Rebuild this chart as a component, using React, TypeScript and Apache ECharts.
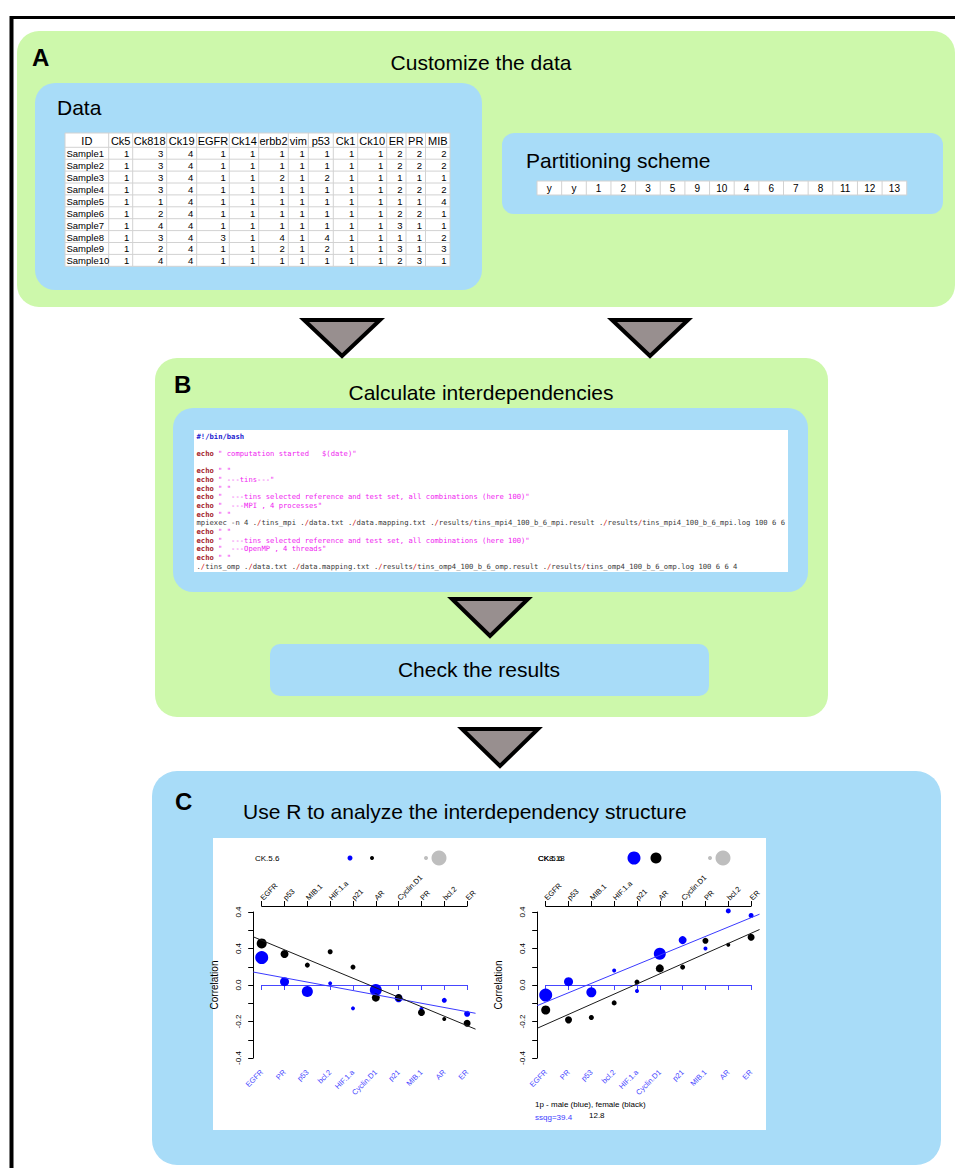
import React, { useEffect, useRef } from "react";
import * as echarts from "echarts";

// ---------------- DATA ----------------
const dataColumns = ["ID", "Ck5", "Ck818", "Ck19", "EGFR", "Ck14", "erbb2", "vim", "p53", "Ck1", "Ck10", "ER", "PR", "MIB"];
const sampleIds = ["Sample1", "Sample2", "Sample3", "Sample4", "Sample5", "Sample6", "Sample7", "Sample8", "Sample9", "Sample10"];
const sampleValues = [
  [1, 3, 4, 1, 1, 1, 1, 1, 1, 1, 2, 2, 2],
  [1, 3, 4, 1, 1, 1, 1, 1, 1, 1, 2, 2, 2],
  [1, 3, 4, 1, 1, 2, 1, 2, 1, 1, 1, 1, 1],
  [1, 3, 4, 1, 1, 1, 1, 1, 1, 1, 2, 2, 2],
  [1, 1, 4, 1, 1, 1, 1, 1, 1, 1, 1, 1, 4],
  [1, 2, 4, 1, 1, 1, 1, 1, 1, 1, 2, 2, 1],
  [1, 4, 4, 1, 1, 1, 1, 1, 1, 1, 3, 1, 1],
  [1, 3, 4, 3, 1, 4, 1, 4, 1, 1, 1, 1, 2],
  [1, 2, 4, 1, 1, 2, 1, 2, 1, 1, 3, 1, 3],
  [1, 4, 4, 1, 1, 1, 1, 1, 1, 1, 2, 3, 1],
];
const partitionScheme = ["y", "y", "1", "2", "3", "5", "9", "10", "4", "6", "7", "8", "11", "12", "13"];

const codeLines = [
  "#!/bin/bash",
  "",
  'echo " computation started   $(date)"',
  "",
  'echo " "',
  'echo " ---tins---"',
  'echo " "',
  'echo "  ---tins selected reference and test set, all combinations (here 100)"',
  'echo "  ---MPI , 4 processes"',
  'echo " "',
  "mpiexec -n 4 ./tins_mpi ./data.txt ./data.mapping.txt ./results/tins_mpi4_100_b_6_mpi.result ./results/tins_mpi4_100_b_6_mpi.log 100 6 6",
  'echo " "',
  'echo "  ---tins selected reference and test set, all combinations (here 100)"',
  'echo "  ---OpenMP , 4 threads"',
  'echo " "',
  "./tins_omp ./data.txt ./data.mapping.txt ./results/tins_omp4_100_b_6_omp.result ./results/tins_omp4_100_b_6_omp.log 100 6 6 4",
];

const topCats = ["EGFR", "p53", "MIB.1", "HIF.1.a", "p21", "AR", "Cyclin.D1", "PR", "bcl.2", "ER"];
const bottomCats = ["EGFR", "PR", "p53", "bcl.2", "HIF.1.a", "Cyclin.D1", "p21", "MIB.1", "AR", "ER"];
const yTickValues = [-0.4, -0.2, 0, 0.2, 0.4];
const yTickLabels = ["-0.4", "-0.2", "0.0", "0.4", "0.4"];

// left plot (CK.5.6)
const leftBlue = [0.15, 0.018, -0.036, 0.009, -0.128, -0.027, -0.073, -0.131, -0.084, -0.158];
const leftBlueSize = [13, 9, 11, 4, 4, 12, 8, 4, 5, 6];
const leftBlack = [0.228, 0.17, 0.109, 0.182, 0.098, -0.069, -0.069, -0.151, -0.186, -0.21];
const leftBlackSize = [10, 8, 5, 5, 5, 8, 7, 7, 4, 7];
const leftBlueFit = [0.071, -0.155];
const leftBlackFit = [0.264, -0.242];

// right plot (CK8.18)
const rightBlue = [-0.055, 0.018, -0.04, 0.08, -0.033, 0.171, 0.246, 0.2, 0.406, 0.381];
const rightBlueSize = [13, 9, 10, 4, 4, 12, 8, 4, 5, 5];
const rightBlack = [-0.137, -0.191, -0.178, -0.098, 0.016, 0.091, 0.098, 0.242, 0.22, 0.262];
const rightBlackSize = [9, 7, 5, 5, 5, 8, 5, 6, 4, 7];
const rightBlueFit = [-0.113, 0.388];
const rightBlackFit = [-0.237, 0.304];

const fitX = [0.63, 10.37];

// ---------------- STYLE ----------------
const GREEN = "#cdf8ab";
const LBLUE = "#a8dcf8";
const TRI = "#988f8f";
const SANS = "Liberation Sans, Arial, sans-serif";
const MONO = "DejaVu Sans Mono, monospace";
const AXBLUE = "#4646ff";

function txt(x: number, y: number, text: string, opts: any = {}) {
  return {
    type: "text",
    x,
    y,
    rotation: opts.rotation || 0,
    z: 1,
    style: {
      text,
      fill: opts.fill || "#000",
      font: opts.font || `21px ${SANS}`,
      align: opts.align || "left",
      verticalAlign: opts.verticalAlign || "middle",
    },
  };
}

function rect(x: number, y: number, w: number, h: number, r: number, fill: string) {
  return { type: "rect", z: 0, shape: { x, y, width: w, height: h, r }, style: { fill } };
}

function tri(cx: number, top: number, bottom: number, half: number) {
  return {
    type: "polygon",
    z: 1,
    shape: { points: [[cx - half, top], [cx + half, top], [cx, bottom]] },
    style: { fill: TRI, stroke: "#000", lineWidth: 4, lineJoin: "miter" },
  };
}

function line(x1: number, y1: number, x2: number, y2: number, stroke: string, lw: number) {
  return { type: "line", z: 1, shape: { x1, y1, x2, y2 }, style: { stroke, lineWidth: lw } };
}

function codeRich(l: string) {
  const nb = (s: string) => s.replace(/ /g, "\u00a0");
  if (l.startsWith("#!")) return { text: `{h|${nb(l)}}` };
  if (l.startsWith("echo")) return { text: `{e|echo}{s|${nb(l.slice(4))}}` };
  const parts = l.split("/");
  return { text: parts.map((p) => (p ? `{p|${nb(p)}}` : "")).join("{r|/}") };
}

function buildGraphics() {
  const g: any[] = [];
  // frame
  g.push(line(11.5, 17.5, 955, 17.5, "#000", 3));
  g.push(line(11.5, 16, 11.5, 1168, "#000", 4));

  // panel A
  g.push(rect(17, 31, 938, 276, 22, GREEN));
  g.push(txt(32, 57, "A", { font: `bold 24px ${SANS}` }));
  g.push(txt(481, 62, "Customize the data", { align: "center" }));
  g.push(rect(35, 83, 447, 207, 20, LBLUE));
  g.push(txt(57, 107, "Data"));

  // data table
  const colX = [65, 108.7, 132.7, 166.7, 196.7, 229.3, 258.7, 288.3, 308.3, 333.3, 357.7, 386.7, 406, 425.5, 450];
  const tTop = 133;
  const hH = 14.3;
  const rH = 11.9;
  const tBottom = tTop + hH + rH * sampleIds.length;
  g.push(rect(colX[0], tTop, colX[colX.length - 1] - colX[0], tBottom - tTop, 0, "#fff"));
  colX.forEach((x) => g.push(line(x, tTop, x, tBottom, "#d2d2d2", 1)));
  for (let i = 0; i <= sampleIds.length + 1; i++) {
    const y = i === 0 ? tTop : tTop + hH + rH * (i - 1);
    g.push(line(colX[0], y, colX[colX.length - 1], y, "#d2d2d2", 1));
  }
  dataColumns.forEach((c, j) => {
    g.push(txt((colX[j] + colX[j + 1]) / 2, tTop + hH / 2 + 0.5, c, { align: "center", font: `11px ${SANS}` }));
  });
  sampleIds.forEach((s, i) => {
    const y = tTop + hH + rH * (i + 0.5) + 0.5;
    g.push(txt(colX[0] + 1.5, y, s, { font: `9.5px ${SANS}` }));
    sampleValues[i].forEach((v, j) => {
      g.push(txt(colX[j + 2] - 3.5, y, String(v), { align: "right", font: `9.5px ${SANS}` }));
    });
  });

  // partitioning scheme
  g.push(rect(502, 133, 441, 81, 12, LBLUE));
  g.push(txt(526, 160, "Partitioning scheme"));
  const pX = 537;
  const pW = 24.65;
  const pY = 181;
  const pH = 14;
  g.push(rect(pX, pY, pW * partitionScheme.length, pH, 0, "#fff"));
  for (let i = 0; i <= partitionScheme.length; i++) g.push(line(pX + pW * i, pY, pX + pW * i, pY + pH, "#d2d2d2", 1));
  g.push(line(pX, pY, pX + pW * partitionScheme.length, pY, "#d2d2d2", 1));
  g.push(line(pX, pY + pH, pX + pW * partitionScheme.length, pY + pH, "#d2d2d2", 1));
  partitionScheme.forEach((p, i) => g.push(txt(pX + pW * (i + 0.5), pY + pH / 2 + 0.5, p, { align: "center", font: `10px ${SANS}` })));

  // triangles
  g.push(tri(342, 320, 356, 38));
  g.push(tri(650, 320, 356, 38));

  // panel B
  g.push(rect(155, 358, 673, 359, 22, GREEN));
  g.push(txt(174, 384, "B", { font: `bold 24px ${SANS}` }));
  g.push(txt(481, 392, "Calculate interdependencies", { align: "center" }));
  g.push(rect(173, 408, 635, 184, 20, LBLUE));
  g.push(rect(194, 430, 594, 142, 0, "#fff"));
  const rich = {
    h: { fontFamily: MONO, fontSize: 7.2, fontWeight: "bold", fill: "#1c1cd0" },
    e: { fontFamily: MONO, fontSize: 7.2, fontWeight: "bold", fill: "#a3232b" },
    s: { fontFamily: MONO, fontSize: 7.2, fill: "#f01cf0" },
    p: { fontFamily: MONO, fontSize: 7.2, fill: "#3a3a3a" },
    r: { fontFamily: MONO, fontSize: 7.2, fill: "#d01010" },
  };
  codeLines.forEach((l, i) => {
    if (!l) return;
    g.push({
      type: "text",
      x: 196.5,
      y: 436 + i * 8.69,
      z: 1,
      style: { ...codeRich(l), rich, font: `7.2px ${MONO}`, fill: "#3a3a3a", align: "left", verticalAlign: "middle" },
    });
  });
  g.push(tri(490, 599, 636, 38));
  g.push(rect(270, 644, 439, 52, 10, LBLUE));
  g.push(txt(479, 669, "Check the results", { align: "center" }));
  g.push(tri(500, 729, 766, 38));

  // panel C
  g.push(rect(152, 771, 789, 394, 25, LBLUE));
  g.push(txt(175, 801, "C", { font: `bold 24px ${SANS}` }));
  g.push(txt(243, 811, "Use R to analyze the interdependency structure"));
  g.push(rect(213, 838, 553, 292, 0, "#fff"));

  // plot headers
  const f8 = `8px ${SANS}`;
  g.push(txt(255, 858, "CK.5.6", { font: f8 }));
  g.push(txt(538, 858, "CK.5.6", { font: f8 }));
  g.push(txt(538, 858, "CK8.18", { font: f8 }));
  const dot = (cx: number, d: number, fill: string) => ({ type: "circle", z: 1, shape: { cx, cy: 858, r: d / 2 }, style: { fill } });
  g.push(dot(350, 5, "#0000ff"), dot(372, 4, "#000"), dot(426, 4, "#bebebe"), dot(439, 15, "#bebebe"));
  g.push(dot(634, 13, "#0000ff"), dot(656, 11, "#000"), dot(710, 4, "#bebebe"), dot(723, 15, "#bebebe"));

  g.push(txt(535, 1104, "1p - male (blue), female (black)", { font: f8 }));
  g.push(txt(535, 1117, "ssqg=39.4", { font: f8, fill: "#3c3cff" }));
  g.push(txt(589, 1115, "12.8", { font: f8 }));
  return g;
}

function yFormatter(v: number) {
  const i = yTickValues.findIndex((t) => Math.abs(t - v) < 1e-6);
  return i >= 0 ? yTickLabels[i] : "";
}

// plot geometry
const PLOT_LEFTS = [261.7, 545.7];
const PLOT_TOP = 912;
const PLOT_W = 205.4;
const PLOT_H = 146;
const UNIT = PLOT_W / 9;

function plotAxes(gi: number) {
  const xBottom = {
    type: "value",
    gridIndex: gi * 2,
    min: 1,
    max: 10,
    interval: 1,
    position: "bottom",
    offset: 5,
    z: 10,
    axisLine: { show: true, lineStyle: { color: AXBLUE, width: 1 } },
    axisTick: { show: true, length: 5, lineStyle: { color: AXBLUE } },
    axisLabel: {
      rotate: 45,
      align: "right",
      verticalAlign: "middle",
      color: AXBLUE,
      fontSize: 7.5,
      margin: 8,
      fontFamily: SANS,
      formatter: (v: number) => bottomCats[Math.round(v) - 1] || "",
    },
    splitLine: { show: false },
  };
  const xTop = {
    type: "value",
    gridIndex: gi * 2,
    min: 1,
    max: 10,
    interval: 1,
    position: "top",
    offset: 6,
    z: 10,
    axisLine: { show: true, lineStyle: { color: "#000", width: 1 } },
    axisTick: { show: true, length: 5, lineStyle: { color: "#000" } },
    axisLabel: {
      rotate: -45,
      align: "left",
      verticalAlign: "middle",
      color: "#000",
      fontSize: 7.5,
      margin: 7,
      fontFamily: SANS,
      formatter: (v: number) => topCats[Math.round(v) - 1] || "",
    },
    splitLine: { show: false },
  };
  const xFit = {
    type: "value",
    gridIndex: gi * 2 + 1,
    min: fitX[0],
    max: fitX[1],
    show: false,
    splitLine: { show: false },
  };
  const y = {
    type: "value",
    gridIndex: gi * 2,
    min: -0.4,
    max: 0.4,
    interval: 0.1,
    offset: 8.5,
    z: 10,
    axisLine: { show: true, lineStyle: { color: "#000", width: 1 } },
    axisTick: { show: true, length: 5, lineStyle: { color: "#000" } },
    axisLabel: { rotate: 90, color: "#000", fontSize: 8, margin: 11, fontFamily: SANS, formatter: yFormatter },
    splitLine: { show: false },
    name: "Correlation",
    nameLocation: "middle",
    nameGap: 34,
    nameRotate: 90,
    nameTextStyle: { fontSize: 10, color: "#000", fontFamily: SANS },
  };
  const yFit = {
    type: "value",
    gridIndex: gi * 2 + 1,
    min: -0.4,
    max: 0.4,
    show: false,
    splitLine: { show: false },
  };
  return { xBottom, xTop, xFit, y, yFit };
}

function plotSeries(gi: number, blue: number[], blueSize: number[], black: number[], blackSize: number[], blueFit: number[], blackFit: number[]) {
  const xb = gi * 3;
  const xt = gi * 3 + 1;
  const xf = gi * 3 + 2;
  return [
    {
      type: "scatter",
      xAxisIndex: xb,
      yAxisIndex: gi * 2,
      clip: false,
      data: blue.map((v, i) => [i + 1, v, blueSize[i]]),
      symbolSize: (d: number[]) => d[2],
      itemStyle: { color: "#0000ff", opacity: 1 },
      z: 20,
    },
    {
      type: "scatter",
      xAxisIndex: xt,
      yAxisIndex: gi * 2,
      clip: false,
      data: black.map((v, i) => [i + 1, v, blackSize[i]]),
      symbolSize: (d: number[]) => d[2],
      itemStyle: { color: "#000", opacity: 1 },
      z: 21,
    },
    {
      type: "line",
      xAxisIndex: xf,
      yAxisIndex: gi * 2 + 1,
      clip: false,
      symbol: "none",
      data: fitX.map((x, i) => [x, blueFit[i]]),
      lineStyle: { color: "#3a3aff", width: 1 },
      z: 22,
    },
    {
      type: "line",
      xAxisIndex: xf,
      yAxisIndex: gi * 2 + 1,
      clip: false,
      symbol: "none",
      data: fitX.map((x, i) => [x, blackFit[i]]),
      lineStyle: { color: "#1a1a1a", width: 1 },
      z: 22,
    },
  ];
}

function buildOption() {
  const a0 = plotAxes(0);
  const a1 = plotAxes(1);
  const grids: any[] = [];
  PLOT_LEFTS.forEach((l) => {
    grids.push({ left: l, top: PLOT_TOP, width: PLOT_W, height: PLOT_H });
    grids.push({ left: l - (1 - fitX[0]) * UNIT, top: PLOT_TOP, width: (fitX[1] - fitX[0]) * UNIT, height: PLOT_H });
  });
  return {
    animation: false,
    textStyle: { fontFamily: SANS },
    grid: grids,
    xAxis: [a0.xBottom, a0.xTop, a0.xFit, a1.xBottom, a1.xTop, a1.xFit],
    yAxis: [a0.y, a0.yFit, a1.y, a1.yFit],
    series: [
      ...plotSeries(0, leftBlue, leftBlueSize, leftBlack, leftBlackSize, leftBlueFit, leftBlackFit),
      ...plotSeries(1, rightBlue, rightBlueSize, rightBlack, rightBlackSize, rightBlueFit, rightBlackFit),
    ],
    graphic: { elements: buildGraphics() },
  };
}

export default function App() {
  const ref = useRef<HTMLDivElement>(null);
  useEffect(() => {
    const chart = echarts.init(ref.current as HTMLDivElement, null, { renderer: "svg", width: 955, height: 1168 });
    chart.setOption(buildOption() as any);
    return () => chart.dispose();
  }, []);
  return <div ref={ref} style={{ position: "absolute", left: 0, top: 0, width: 955, height: 1168 }} />;
}
